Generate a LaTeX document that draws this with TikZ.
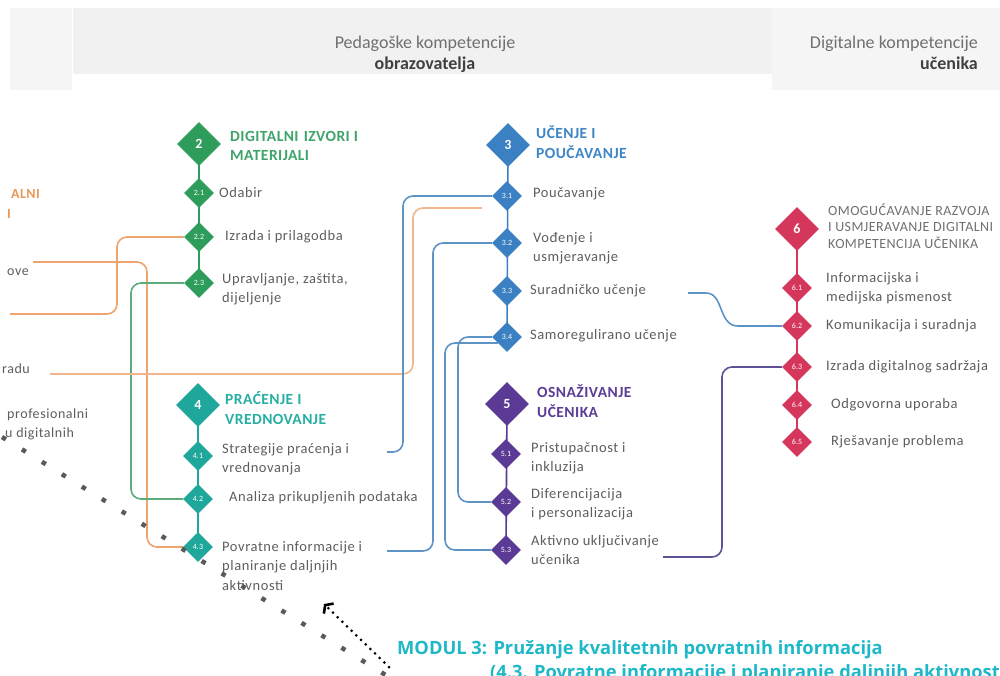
\documentclass[tikz,border=0pt]{standalone}
\usepackage{fontspec}
\setmainfont{Carlito}
\newfontfamily\lblfont[LetterSpace=4]{Carlito}
\newfontfamily\ttlfont[LetterSpace=3]{Carlito}
\newfontfamily\modfont{Open Sans}
\usetikzlibrary{shapes.geometric,arrows.meta}
\definecolor{cgreen}{HTML}{2E9D5B}
\definecolor{cblue}{HTML}{3A80C3}
\definecolor{cteal}{HTML}{20A79C}
\definecolor{cpurple}{HTML}{5A3A95}
\definecolor{cred}{HTML}{D5375C}
\definecolor{tgreen}{HTML}{3FA469}
\definecolor{tblue}{HTML}{3D86C6}
\definecolor{tteal}{HTML}{27AFA3}
\definecolor{tpurple}{HTML}{5B3D96}
\definecolor{lorange}{HTML}{EDA46E}
\definecolor{lgreen}{HTML}{5DAA7A}
\definecolor{lblue}{HTML}{5E93C6}
\definecolor{lpurple}{HTML}{5F5193}
\definecolor{lblgray}{HTML}{5E5E5E}
\definecolor{ttlgray}{HTML}{707070}
\definecolor{hdr}{HTML}{F1F1F1}
\definecolor{hdrb}{HTML}{F5F5F5}
\definecolor{modc}{HTML}{1EB8C8}
\definecolor{dotgray}{HTML}{5A5A5A}
\definecolor{orangetxt}{HTML}{E89858}
\begin{document}
\begin{tikzpicture}[x=1pt,y=-1pt,
  bigd/.style={diamond,fill=#1,minimum width=44pt,minimum height=44pt,inner sep=0pt,text=white,font=\bfseries\fontsize{14}{14}\selectfont},
  smalld/.style={diamond,fill=#1,minimum width=30pt,minimum height=30pt,inner sep=0pt,text=white!90,font=\fontsize{8}{8}\selectfont},
  lbl/.style={anchor=west,inner sep=0pt,align=left,text=lblgray,font=\lblfont\fontsize{14.5}{19.5}\selectfont},
  ttl/.style={anchor=west,inner sep=0pt,align=left,text=#1,font=\ttlfont\bfseries\fontsize{15.5}{19.5}\selectfont},
  conn/.style={draw=#1,line width=1.6pt,rounded corners=10pt},
  spine/.style={draw=#1,line width=1.6pt},
  hdrtxt/.style={inner sep=0pt,text=ttlgray,font=\fontsize{18}{20}\selectfont},
  hdrbold/.style={inner sep=0pt,text=black!75,font=\bfseries\fontsize{18}{20}\selectfont},
  cuttxt/.style={inner sep=0pt,text=lblgray,font=\lblfont\fontsize{14}{16}\selectfont},
  modtxt/.style={inner sep=0pt,anchor=base west,text=modc,font=\modfont\bfseries\fontsize{18.3}{20}\selectfont}
]
\useasboundingbox (0,0) rectangle (1000,675);
\clip (0,0) rectangle (1000,675);
\fill[white] (0,0) rectangle (1000,675);
% header
\fill[hdrb] (10,8) rectangle (72,90);
\fill[hdr] (73,8) rectangle (778,74);
\fill[hdrb] (772,8) rectangle (1000,90);
\node[hdrtxt,anchor=base] (h1) at (425,48) {Pedagoške kompetencije};
\node[hdrbold,anchor=base] (h2) at (425,69) {obrazovatelja};
\node[hdrtxt,anchor=base east] (h3) at (978,48) {Digitalne kompetencije};
\node[hdrbold,anchor=base east] (h4) at (978,69) {učenika};
% cut-off texts on the left
\node[inner sep=0pt,anchor=base east,text=orangetxt,font=\ttlfont\bfseries\fontsize{14}{16}\selectfont] (c1) at (40,198) {ALNI};
\node[inner sep=0pt,anchor=base east,text=orangetxt,font=\bfseries\fontsize{14}{16}\selectfont] (c1b) at (11,218) {I};
\node[cuttxt,anchor=base east] (c2) at (29,275) {ove};
\node[cuttxt,anchor=base east] (c3) at (30,373) {radu};
\node[cuttxt,anchor=base west] (c4) at (7,418) {profesionalni};
\node[cuttxt,anchor=base west] (c5) at (5,437) {u digitalnih};
% coordinates
\coordinate (g2) at (199,144); \coordinate (g21) at (199,193); \coordinate (g22) at (199,237); \coordinate (g23) at (199,283);
\coordinate (g3) at (508,145); \coordinate (g31) at (507,196); \coordinate (g32) at (507,243); \coordinate (g33) at (507,291); \coordinate (g34) at (507,337);
\coordinate (g4) at (198,405); \coordinate (g41) at (198,456); \coordinate (g42) at (198,499); \coordinate (g43) at (198,547);
\coordinate (g5) at (507,404); \coordinate (g51) at (506,454); \coordinate (g52) at (506,502); \coordinate (g53) at (506,550);
\coordinate (g6) at (797,229); \coordinate (g61) at (797,288); \coordinate (g62) at (797,326); \coordinate (g63) at (797,367); \coordinate (g64) at (797,405); \coordinate (g65) at (797,442);
% spines
\draw[spine=cgreen] (g2) -- (g23);
\draw[spine=cblue] (g3) -- (g34);
\draw[spine=cteal] (g4) -- (g43);
\draw[spine=cpurple] (g5) -- (g53);
\draw[spine=cred] (g6) -- (g65);
% diamonds
\node[bigd=cgreen] (d2) at (g2) {2};
\node[smalld=cgreen] (d21) at (g21) {2.1};
\node[smalld=cgreen] (d22) at (g22) {2.2};
\node[smalld=cgreen] (d23) at (g23) {2.3};
\node[bigd=cblue] (d3) at (g3) {3};
\node[smalld=cblue] (d31) at (g31) {3.1};
\node[smalld=cblue] (d32) at (g32) {3.2};
\node[smalld=cblue] (d33) at (g33) {3.3};
\node[smalld=cblue] (d34) at (g34) {3.4};
\node[bigd=cteal] (d4) at (g4) {4};
\node[smalld=cteal] (d41) at (g41) {4.1};
\node[smalld=cteal] (d42) at (g42) {4.2};
\node[smalld=cteal] (d43) at (g43) {4.3};
\node[bigd=cpurple] (d5) at (g5) {5};
\node[smalld=cpurple] (d51) at (g51) {5.1};
\node[smalld=cpurple] (d52) at (g52) {5.2};
\node[smalld=cpurple] (d53) at (g53) {5.3};
\node[bigd=cred] (d6) at (g6) {6};
\node[smalld=cred] (d61) at (g61) {6.1};
\node[smalld=cred] (d62) at (g62) {6.2};
\node[smalld=cred] (d63) at (g63) {6.3};
\node[smalld=cred] (d64) at (g64) {6.4};
\node[smalld=cred] (d65) at (g65) {6.5};
% titles
\node[ttl=tgreen] (T2) at (230,146) {DIGITALNI\,\,IZVORI I\\MATERIJALI};
\node[ttl=tblue] (T3) at (536,142) {UČENJE I\\POUČAVANJE};
\node[ttl=tteal] (T4) at (225,408) {PRAĆENJE I\\VREDNOVANJE};
\node[ttl=tpurple] (T5) at (537,401) {OSNAŽIVANJE\\UČENIKA};
\node[anchor=west,inner sep=0pt,align=left,text=ttlgray,font=\ttlfont\fontsize{14}{16.5}\selectfont] (T6) at (828,226) {OMOGUĆAVANJE RAZVOJA\\I USMJERAVANJE DIGITALNI\\KOMPETENCIJA UČENIKA};
% labels
\node[lbl] (t21) at (219,193) {Odabir};
\node[lbl] (t22) at (225,237) {Izrada i prilagodba};
\node[lbl] (t23) at (222,289) {Upravljanje, zaštita,\\dijeljenje};
\node[lbl] (t31) at (533,194) {Poučavanje};
\node[lbl] (t32) at (533,248) {Vođenje i\\usmjeravanje};
\node[lbl] (t33) at (530,291) {Suradničko učenje};
\node[lbl] (t34) at (530,336) {Samoregulirano učenje};
\node[lbl] (t41) at (222,459) {Strategije praćenja i\\vrednovanja};
\node[lbl] (t42) at (229,498) {Analiza prikupljenih podataka};
\node[lbl] (t43) at (222,566) {Povratne informacije i\\planiranje daljnjih\\aktivnosti};
\node[lbl] (t51) at (531,458) {Pristupačnost i\\inkluzija};
\node[lbl] (t52) at (531,504) {Diferencijacija\\i personalizacija};
\node[lbl] (t53) at (531,550) {Aktivno uključivanje\\učenika};
\node[lbl] (t61) at (826,288) {Informacijska i\\medijska pismenost};
\node[lbl] (t62) at (826,326) {Komunikacija i suradnja};
\node[lbl] (t63) at (826,367) {Izrada digitalnog sadržaja};
\node[lbl] (t64) at (831,405) {Odgovorna uporaba};
\node[lbl] (t65) at (831,442) {Rješavanje problema};
% connector free ends
\coordinate (o1s) at (33,262);
\coordinate (o2s) at (10,314);
\coordinate (o3s) at (50,374);
\coordinate (o3e) at (482,208);
\coordinate (b1e) at (387,452);
\coordinate (b2e) at (387,551);
\coordinate (b5s) at (688,293);
\coordinate (ps) at (663,557);
% connectors
\draw[conn=lorange] (o1s) -- (147,262) -- (147,547) -- (d43.west);
\draw[conn=lorange] (o2s) -- (117,314) -- (117,237) -- (d22.west);
\draw[conn=lgreen] (d23.west) -- (131,283) -- (131,499) -- (d42.west);
\draw[conn=lorange!80] (o3s) -- (413,374) -- (413,208) -- (o3e);
\draw[conn=lblue] (d31.west) -- (403,196) -- (403,452) -- (b1e);
\draw[conn=lblue] (d32.west) -- (433,243) -- (433,551) -- (b2e);
\draw[conn=lblue] (d34.west) -- (458,337) -- (458,502) -- (d52.west);
\draw[conn=lblue] ([xshift=6pt,yshift=-6pt]d34.west) -- (445,343) -- (445,550) -- (d53.west);
\draw[draw=lblue,line width=1.6pt] (b5s) -- (706,293) .. controls (724,293) and (718,326) .. (738,326) -- (d62.west);
\draw[conn=lpurple] (ps) -- (722,557) -- (722,367) -- (d63.west);
% bottom annotation
\node[modtxt] (m1) at (397,654) {MODUL 3: Pružanje kvalitetnih povratnih informacija};
\node[modtxt] (m2) at (490,678) {(4.3. Povratne informacije i planiranje daljnjih aktivnosti)};
% dotted lines
\coordinate (gd1) at (2,437);
\coordinate (gd2) at (392,679);
\draw[dotgray,line width=4.5pt,dash pattern=on 4.5pt off 19pt] (gd1) -- (gd2);
\coordinate (ar1) at (389,667);
\coordinate (ar2) at (324,604);
\draw[black,line width=3pt,line cap=round,dash pattern=on 0pt off 6.5pt,-{Straight Barb[length=5pt,width=14pt,line width=2.6pt]}] (ar1) -- (ar2);
\end{tikzpicture}
\end{document}
